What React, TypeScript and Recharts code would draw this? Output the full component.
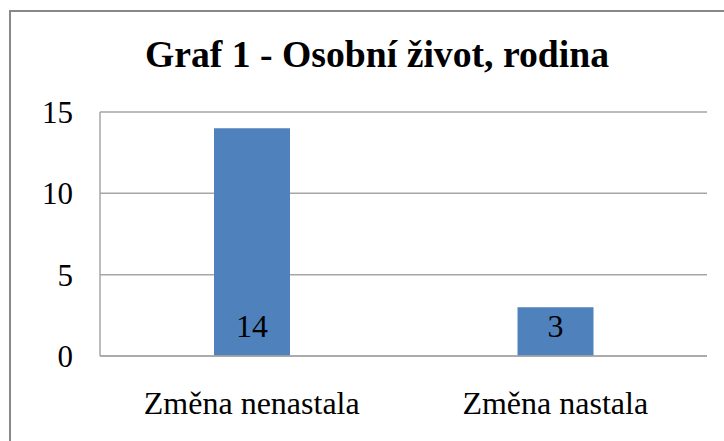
import React from 'react';
import { BarChart, Bar, XAxis, YAxis, CartesianGrid, LabelList } from 'recharts';

const categories = ['Změna nenastala', 'Změna nastala'];
const values = [14, 3];
const yTicks = [0, 5, 10, 15];
const boundaryTicks = [0, 1, 2];
const title = 'Graf 1 - Osobní život, rodina';

const data = categories.map((c, i) => ({ name: c, value: values[i], idx: i + 0.5 }));

const FONT = 'Liberation Serif';
const GRID = '#a6a6a6';

export default function App() {
  return (
    <div style={{ position: 'absolute', left: 0, top: 0, width: 724, height: 441, overflow: 'hidden', background: '#fff', fontFamily: FONT }}>
      <div
        style={{
          position: 'absolute',
          left: 9,
          top: 10,
          width: 800,
          height: 600,
          border: '2px solid #888888',
          boxSizing: 'border-box',
        }}
      />
      <svg width={724} height={100} style={{ position: 'absolute', left: 0, top: 0 }}>
        <text x={377} y={67} textAnchor="middle" fontFamily={FONT} fontWeight="bold" fontSize={37.7} fill="#000">
          {title}
        </text>
      </svg>
      <div style={{ position: 'absolute', left: 0, top: 0 }}>
        <BarChart width={724} height={441} data={data} margin={{ top: 112, right: 17, left: 0, bottom: 0 }} style={{ fontFamily: FONT }}>
          <CartesianGrid vertical={false} stroke={GRID} strokeWidth={1.5} />
          <XAxis
            xAxisId="bounds"
            type="number"
            dataKey="idx"
            domain={[0, 2]}
            ticks={boundaryTicks}
            height={0}
            axisLine={false}
            tickLine={{ stroke: GRID, strokeWidth: 1.5 }}
            tickSize={10}
            tick={() => <g />}
          />
          <XAxis
            xAxisId="cat"
            dataKey="name"
            height={85}
            axisLine={{ stroke: GRID, strokeWidth: 1.5 }}
            tickLine={false}
            tickSize={10}
            tickMargin={25}
            tick={{ fill: '#000', fontSize: 32, fontFamily: FONT }}
          />
          <YAxis
            width={100}
            domain={[0, 15]}
            ticks={yTicks}
            axisLine={{ stroke: GRID, strokeWidth: 1.5 }}
            tickLine={false}
            tickSize={6}
            tickMargin={21}
            tick={{ fill: '#000', fontSize: 31, fontFamily: FONT }}
          />
          <Bar dataKey="value" xAxisId="cat" fill="#4f81bd" barSize={76} isAnimationActive={false}>
            <LabelList
              dataKey="value"
              position="insideBottom"
              offset={19}
              fill="#000"
              fontSize={32}
              fontFamily={FONT}
            />
          </Bar>
        </BarChart>
      </div>
    </div>
  );
}
